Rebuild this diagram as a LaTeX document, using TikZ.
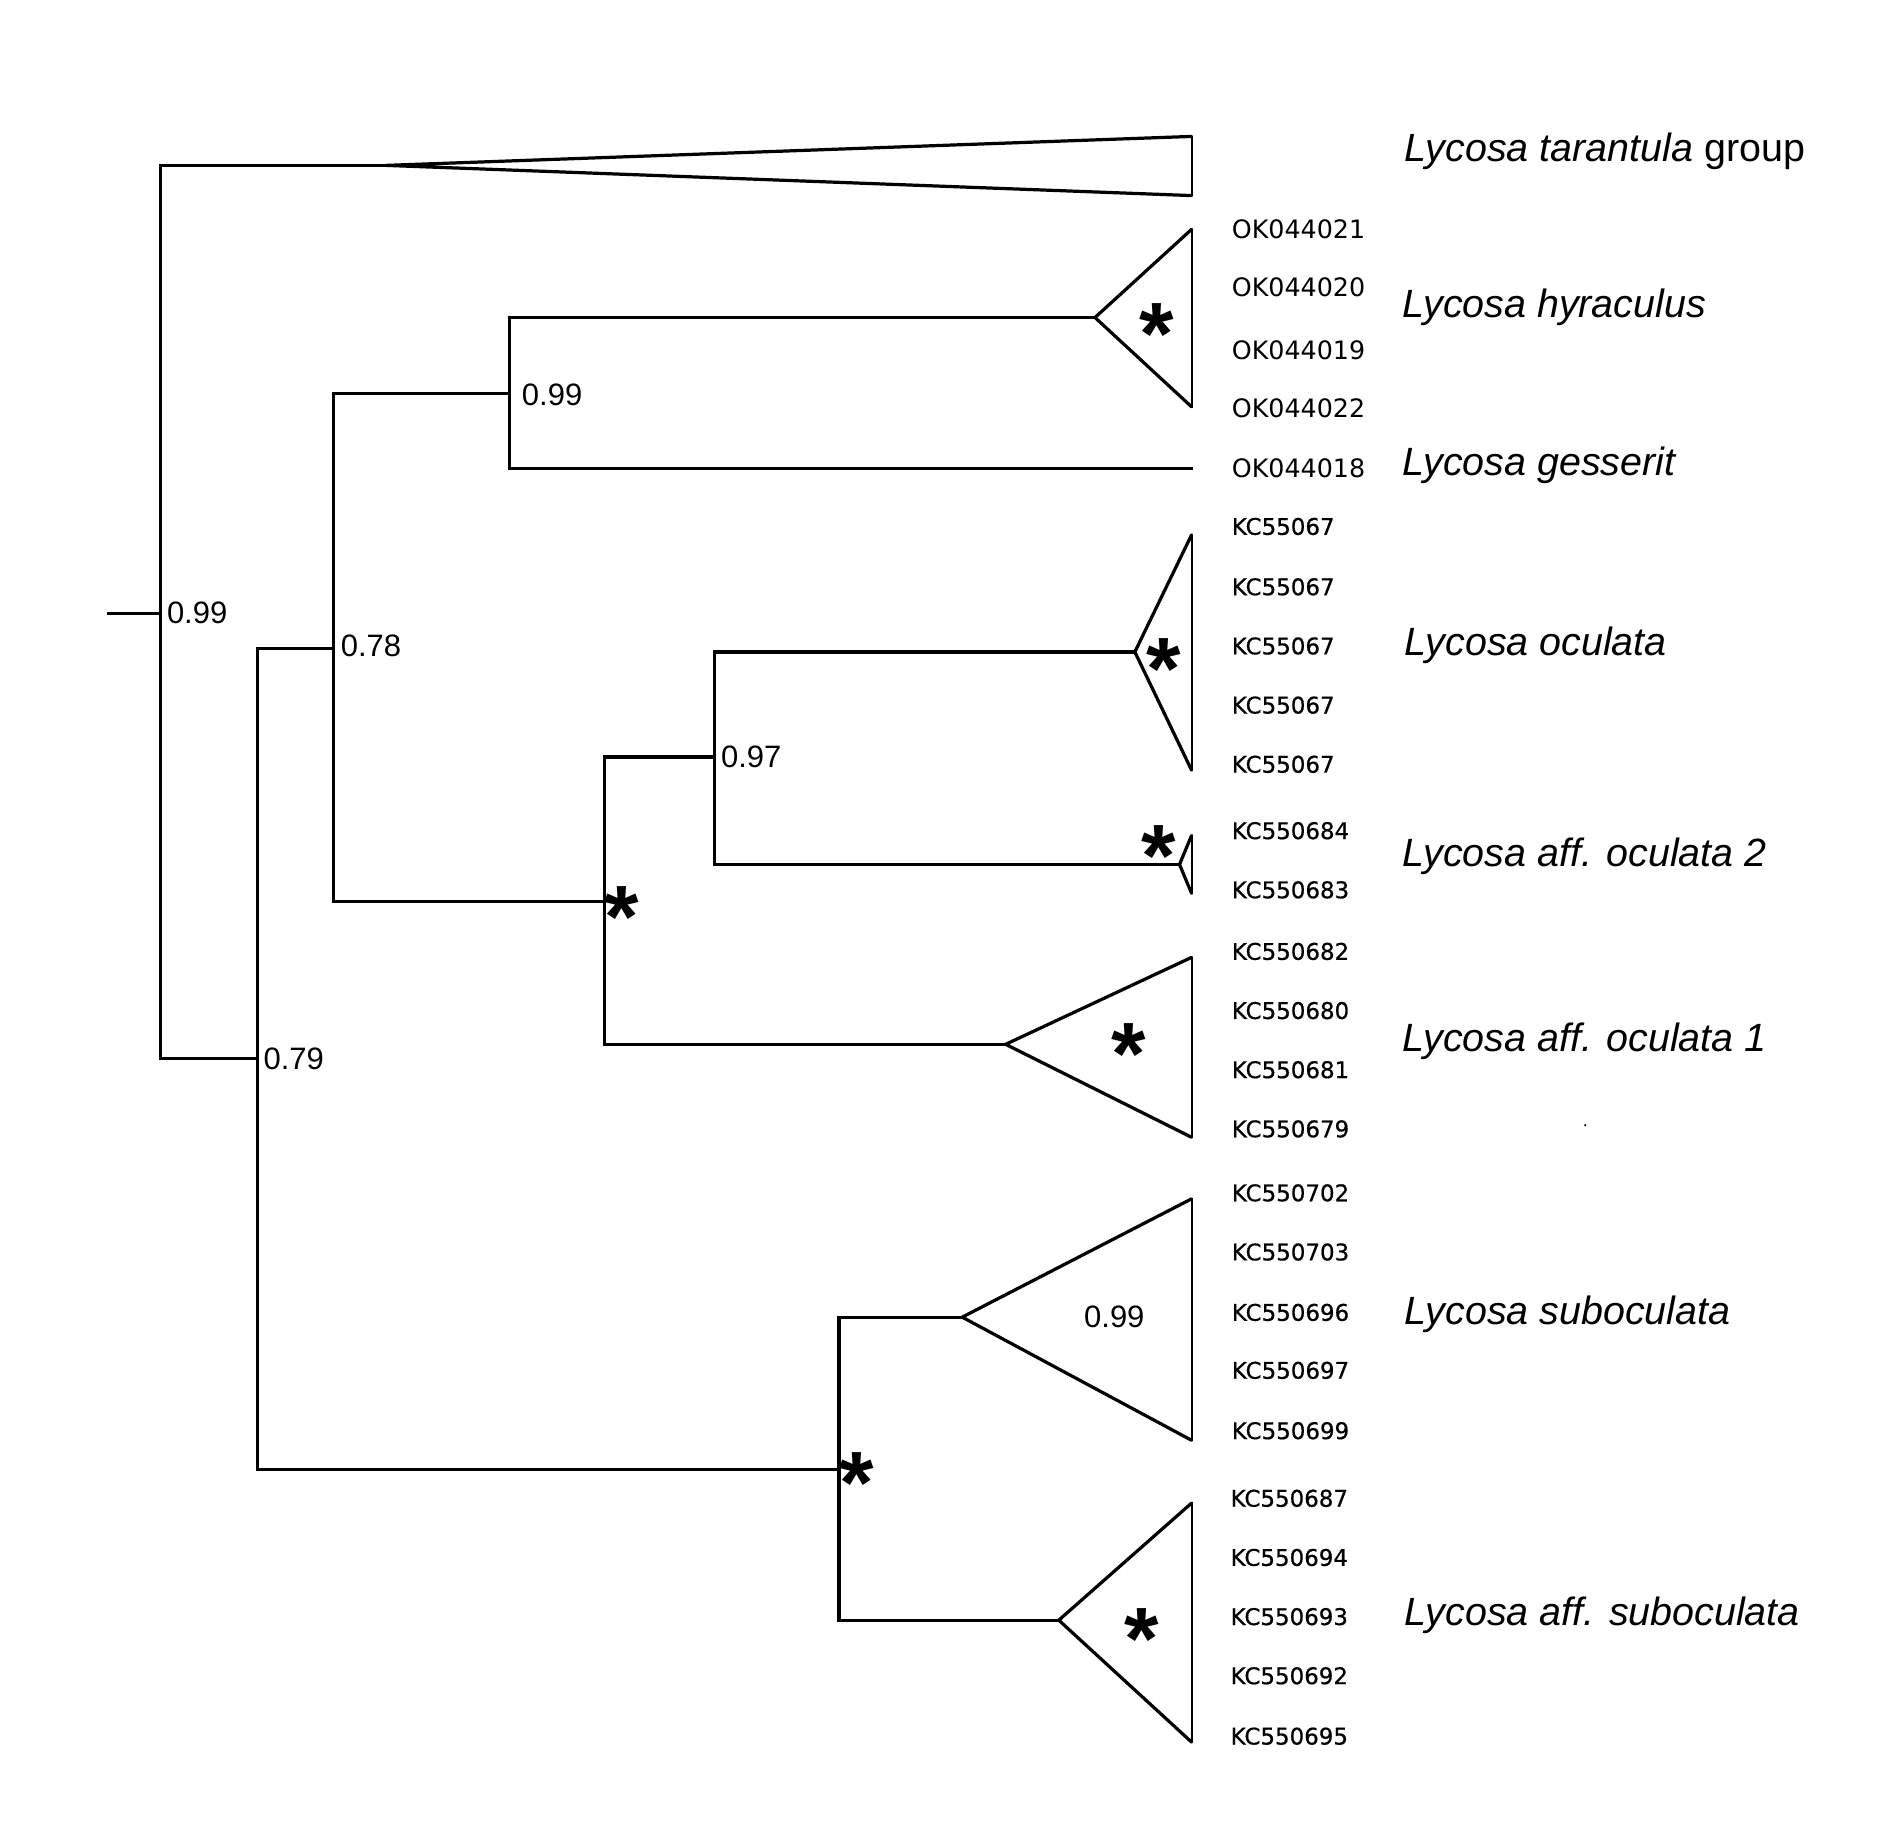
\documentclass[tikz,border=0pt]{standalone}
\usepackage{fontspec}
\setmainfont{Liberation Sans}
\newfontfamily\accfont{DejaVu Sans}
\newfontfamily\kcfont{DejaVu Sans}[FakeBold=0.6]
\begin{document}
\begin{tikzpicture}[x=0.6pt,y=-0.6pt,
 branch/.style={line width=1.6pt, line cap=rect, line join=miter},
 cladeside/.style={line width=1.6pt, line join=round, line cap=round},
 tipside/.style={line width=0.9pt},
 acco/.style={font=\accfont\fontsize{12.6}{14}\selectfont, anchor=base west, inner sep=0pt},
 acck/.style={font=\kcfont\fontsize{11.4}{13}\selectfont, anchor=base west, inner sep=0pt},
 sp/.style={font=\fontsize{19.6}{22}\selectfont\itshape, anchor=base west, inner sep=0pt},
 sup/.style={font=\fontsize{15.4}{17}\selectfont, anchor=west, inner sep=0pt},
 starmark/.style={font=\bfseries\fontsize{44}{44}\selectfont, inner sep=0pt, anchor=base, yshift=-22pt}]
\useasboundingbox (0,0) rectangle (1568,1529);
% internal nodes
\coordinate (r0) at (90,508);
\coordinate (n1) at (133,508);
\coordinate (n2) at (213,877);
\coordinate (n3) at (276,537);
\coordinate (n4) at (422,326);
\coordinate (n5) at (501,747);
\coordinate (n7) at (592,627);
\coordinate (n6) at (695,1217);
% clade triangles: apex, top, bottom
\coordinate (tA) at (320,137); \coordinate (tT) at (987,113); \coordinate (tB) at (987,162);
\coordinate (hA) at (907,263); \coordinate (hT) at (987,190); \coordinate (hB) at (987,337);
\coordinate (gT) at (987,388);
\coordinate (oA) at (940,540); \coordinate (oT) at (987,443); \coordinate (oB) at (987,638);
\coordinate (o2A) at (977,716); \coordinate (o2T) at (987,692); \coordinate (o2B) at (987,740);
\coordinate (o1A) at (833,865); \coordinate (o1T) at (987,793); \coordinate (o1B) at (987,942);
\coordinate (sA) at (797,1091); \coordinate (sT) at (987,993); \coordinate (sB) at (987,1193);
\coordinate (asA) at (877,1342); \coordinate (asT) at (987,1245); \coordinate (asB) at (987,1443);
% branches
\draw[branch] (r0) -- (n1);
\draw[branch] (n1) |- (tA);
\draw[branch] (n1) |- (n2);
\draw[branch] (n2) |- (n3);
\draw[branch] (n2) |- (n6);
\draw[branch] (n3) |- (n4);
\draw[branch] (n3) |- (n5);
\draw[branch] (n4) |- (hA);
\draw[branch] (n4) |- (gT);
\draw[branch] (n5) |- (n7);
\draw[branch] (n5) |- (o1A);
\draw[branch] (n7) |- (oA);
\draw[branch] (n7) |- (o2A);
\draw[branch] (n6) |- (sA);
\draw[branch] (n6) |- (asA);
% triangles
\foreach \c in {t,h,o,o2,o1,s,as}{
  \draw[cladeside] (\c T) -- (\c A) -- (\c B);
  \draw[tipside] (\c T) -- (\c B);
}
% support values
\node[sup] (s1) at (138,508) {0.99};
\node[sup] (s2) at (282,535) {0.78};
\node[sup] (s3) at (432,327) {0.99};
\node[sup] (s4) at (597,627) {0.97};
\node[sup] (s5) at (218,877) {0.79};
\node[sup, anchor=center] (s6) at (923,1091) {0.99};
% stars
\node[starmark] (k1) at (958,265) {*};
\node[starmark] (k2) at (964,543) {*};
\node[starmark] (k3) at (960,698) {*};
\node[starmark] (k4) at (935,862) {*};
\node[starmark] (k5) at (515,748) {*};
\node[starmark] (k6) at (710,1217) {*};
\node[starmark] (k7) at (946,1346) {*};
% accession labels
\foreach \t/\y [count=\i] in {OK044021/197.5, OK044020/245.5, OK044019/297.5, OK044022/345.5, OK044018/395.5}
  \node[acco] (ok\i) at (1020,\y) {\t};
\foreach \t/\y [count=\i] in {KC55067/443, KC55067/493, KC55067/542, KC55067/591, KC55067/640,
  KC550684/695, KC550683/744, KC550682/795, KC550680/844, KC550681/893, KC550679/942,
  KC550702/995, KC550703/1044, KC550696/1094, KC550697/1142, KC550699/1192}
  \node[acck] (kc\i) at (1020,\y) {\t};
\foreach \t/\y [count=\i] in {KC550687/1248, KC550694/1297, KC550693/1346, KC550692/1395, KC550695/1445}
  \node[acck] (kd\i) at (1019,\y) {\t};
% species labels
\node[sp] (L1) at (1163,134) {Lycosa tarantula \upshape group};
\node[sp] (L2) at (1161,263) {Lycosa hyraculus};
\node[sp] (L3) at (1161,394) {Lycosa gesserit};
\node[sp] (L4) at (1163,543) {Lycosa oculata};
\node[sp] (L5) at (1161,718) {Lycosa aff. oculata 2};
\node[sp] (L6) at (1161,871) {Lycosa aff. oculata 1};
\node[sp] (L7) at (1163,1097) {Lycosa suboculata};
\node[sp] (L8) at (1163,1346) {Lycosa aff. suboculata};
\fill (1313,932) circle (1);
\end{tikzpicture}
\end{document}
